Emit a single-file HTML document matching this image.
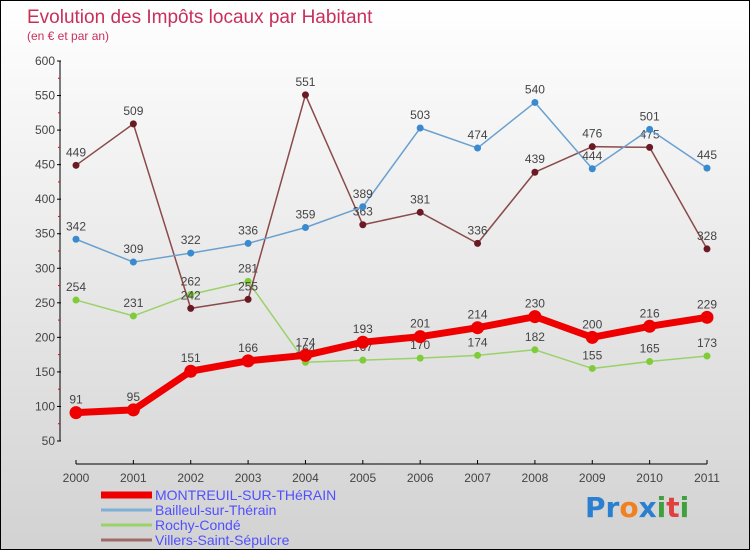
<!DOCTYPE html>
<html><head><meta charset="utf-8"><style>
html,body{margin:0;padding:0}
body{width:750px;height:550px;overflow:hidden;font-family:"Liberation Sans","DejaVu Sans",sans-serif}
#wrap{position:relative;width:748px;height:548px;border:1px solid #000;background:linear-gradient(#ffffff,#d2d2d2)}
svg{position:absolute;left:0;top:0}
</style></head><body>
<div id="wrap">
<svg id="chart" width="750" height="550">
<text x="26" y="22" font-size="19" fill="#c8305a">Evolution des Impôts locaux par Habitant</text>
<text x="26" y="39" font-size="12" fill="#c8305a">(en € et par an)</text>
<g id="axes"></g><g id="series"></g><g id="legend"></g>
<text x="584" y="516" font-size="28" font-weight="bold" font-family="'DejaVu Sans',sans-serif"><tspan fill="#2a7fd0">Pr</tspan><tspan fill="#f08020">o</tspan><tspan fill="#2a7fd0">x</tspan><tspan fill="#40a040">i</tspan><tspan fill="#e04040">t</tspan><tspan fill="#40a040">i</tspan></text>
</svg>
</div>
<script>
const years=["2000","2001","2002","2003","2004","2005","2006","2007","2008","2009","2010","2011"];
const yTicks=[50,100,150,200,250,300,350,400,450,500,550,600];
const montreuil=[91,95,151,166,174,193,201,214,230,200,216,229];
const bailleul=[342,309,322,336,359,389,503,474,540,444,501,445];
const rochy=[254,231,262,281,164,167,170,174,182,155,165,173];
const villers=[449,509,242,255,551,363,381,336,439,476,475,328];
const seriesNames=["MONTREUIL-SUR-THéRAIN","Bailleul-sur-Thérain","Rochy-Condé","Villers-Saint-Sépulcre"];

const NS="http://www.w3.org/2000/svg";
function X(i){return 75+i*(706-75)/11;}
function Y(v){return 440-(v-50)*(380/550);}
function mk(tag,attrs,parent){const e=document.createElementNS(NS,tag);for(const k in attrs)e.setAttribute(k,attrs[k]);parent.appendChild(e);return e;}
const axes=document.getElementById('axes'),ser=document.getElementById('series'),leg=document.getElementById('legend');

let a=mk('line',{x1:59,y1:Y(600),x2:59,y2:Y(50),stroke:'#000'},axes);


yTicks.forEach((t,i)=>{
  const l=mk('line',{x1:56,y1:Y(t),x2:60,y2:Y(t),stroke:'#000'},axes);
  
  
  const tx=mk('text',{x:54,y:Y(t)+4,'font-size':12,'text-anchor':'end',fill:'#444'},axes);
  tx.textContent=t;
  
  
  if(i<yTicks.length-1){
    const m=mk('line',{x1:57,y1:Y(t+25),x2:59,y2:Y(t+25),stroke:'#e00'},axes);
    
    
  }
});
a=mk('line',{x1:X(0),y1:463,x2:X(11),y2:463,stroke:'#000'},axes);


years.forEach((yr,i)=>{
  const l=mk('line',{x1:X(i),y1:459,x2:X(i),y2:463,stroke:'#000'},axes);
  
  
  const tx=mk('text',{x:X(i),y:481,'font-size':12,'text-anchor':'middle',fill:'#444'},axes);
  tx.textContent=yr;
  
  
});

function drawSeries(vals,color,dot,width,r,name){
  const g=mk('g',{},ser);
  
  
  const p=mk('polyline',{points:vals.map((v,i)=>X(i)+','+Y(v)).join(' '),fill:'none',stroke:color,'stroke-width':width,'stroke-linejoin':'round'},g);
  
  
  vals.forEach((v,i)=>{
    const c=mk('circle',{cx:X(i),cy:Y(v),r:r,fill:dot},g);
    
    
    const t=mk('text',{x:X(i),y:Y(v)-9,'font-size':12,'text-anchor':'middle',fill:'#444'},g);
    t.textContent=v;
    
    
  });
}
drawSeries(rochy,'#9ad26a','#7fcc3a',1.5,3.5,'rochy');
drawSeries(villers,'#8a4a4a','#6a1a22',1.5,3.5,'villers');
drawSeries(bailleul,'#6aa0d0','#3a8ad0',1.5,3.5,'bailleul');
drawSeries(montreuil,'#ee0000','#ee0000',7,6.5,'montreuil');

const legColors=['#ee0000','#7fb0d8','#9ad26a','#a06a6a'];
const legW=[7,3,3,3];
seriesNames.forEach((n,i)=>{
  const y=493+i*15;
  const l=mk('line',{x1:100,y1:y+1,x2:151,y2:y+1,stroke:legColors[i],'stroke-width':legW[i]},leg);
  
  
  const t=mk('text',{x:154,y:y+6,'font-size':14,fill:'#5050ff'},leg);
  t.textContent=n;
  
  
});
</script>
</body></html>
